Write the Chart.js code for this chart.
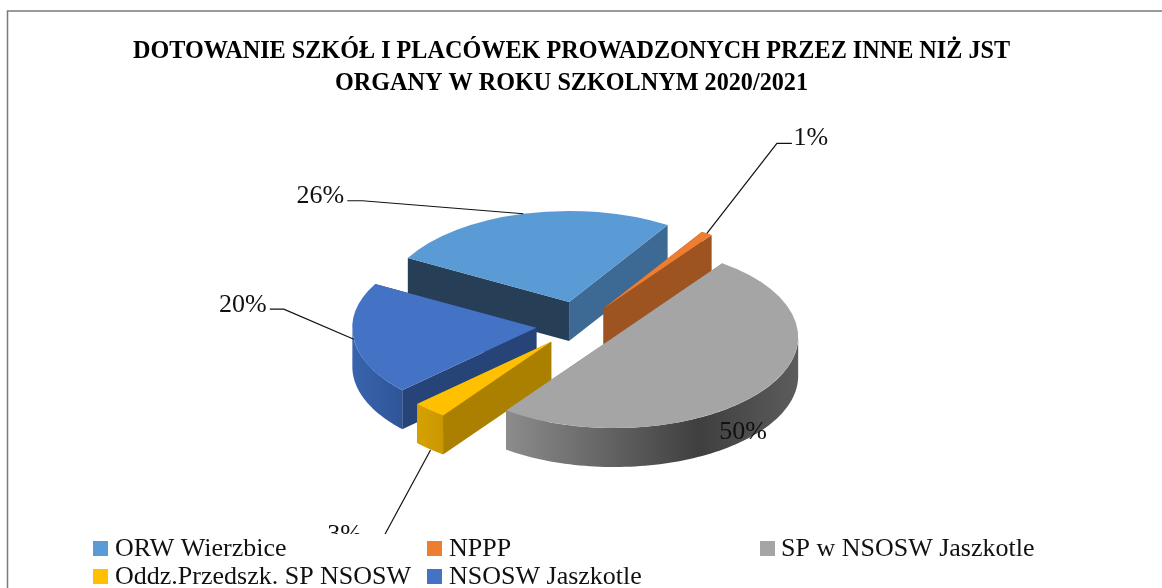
<!DOCTYPE html>
<html lang="pl">
<head>
<meta charset="utf-8">
<title>Dotowanie szkół</title>
<style>html,body{margin:0;padding:0;background:#fff;overflow:hidden}canvas{display:block}</style>
<script src="https://cdn.jsdelivr.net/npm/chart.js@4"></script>
</head>
<body>
<canvas id="c" width="1162" height="588"></canvas>
<script>
const categories = ['ORW Wierzbice', 'NPPP', 'SP w NSOSW Jaszkotle', 'Oddz.Przedszk. SP NSOSW', 'NSOSW Jaszkotle'];
const shares = [26, 1, 50, 3, 20];
const titleLines = ['DOTOWANIE SZKÓŁ I PLACÓWEK PROWADZONYCH PRZEZ INNE NIŻ JST', 'ORGANY W ROKU SZKOLNYM 2020/2021'];
const topColors = ['#5b9bd5', '#ed7d31', '#a5a5a5', '#ffc000', '#4472c4'];

// Look of the 3D pie
const FONT = '"Liberation Serif", serif';
const TILT = 0.495, DEPTH = 39, RADIUS = 184;
const explode = [48, 40, 41, 45, 45];
const startWallColors = ['#263f57', '#9e5420', '#8a8a8a', '#ab8000', '#264478'];
const endWallColors = ['#3d6a94', '#9e5420', '#8a8a8a', '#ab8000', '#264478'];
const outerWallStops = [
  [[0, '#3d6a94'], [1, '#3d6a94']],
  [[0, '#9e5420'], [1, '#9e5420']],
  [[0, '#8c8c8c'], [0.66, '#3f3f3f'], [1, '#5c5c5c']],
  [[0, '#d6a200'], [1, '#c99700']],
  [[0, '#3864ae'], [1, '#2f5597']]
];
// Label placement relative to each slice's outer-edge anchor
const labelLayout = [
  {dx: -203, dy: -18, leader: [[-161, -13], [-176, -13]], drop: 0},
  {dx: 104, dy: -95, leader: [[70, -90], [85, -90]], drop: 0},
  {free: true, dx: -20, dy: 42, leader: [], drop: 0},
  {dx: -85, dy: 125, leader: [[-45, 125]], drop: 1},
  {dx: -111, dy: -34, leader: [[-70, -30], [-84, -30]], drop: 0}
];
const legendCols = [93, 427, 760];
const legendRows = [548, 576];

function ptOn(chart, el, a, r, depth) {
  const cy = (chart.chartArea.top + chart.chartArea.bottom) / 2;
  return {
    x: el.x + r * Math.cos(a),
    y: cy + TILT * (el.y - cy + r * Math.sin(a)) + depth
  };
}
function poly(ctx, pts, fill) {
  ctx.beginPath();
  pts.forEach((p, i) => i ? ctx.lineTo(p.x, p.y) : ctx.moveTo(p.x, p.y));
  ctx.closePath();
  ctx.fillStyle = fill;
  ctx.fill();
}
function normAngle(a) {
  while (a > Math.PI) a -= 2 * Math.PI;
  while (a <= -Math.PI) a += 2 * Math.PI;
  return a;
}

const pie3d = {
  id: 'pie3d',
  afterLayout(chart) {
    chart.titleBlock.left = 0;
    chart.titleBlock.right = 1143;
  },
  beforeDraw(chart) {
    const ctx = chart.ctx;
    ctx.save();
    ctx.strokeStyle = '#7a7a7a';
    ctx.lineWidth = 1.5;
    ctx.beginPath();
    ctx.moveTo(7.5, 588);
    ctx.lineTo(7.5, 11);
    ctx.lineTo(1162, 11);
    ctx.stroke();
    ctx.restore();
  },
  beforeDatasetsDraw(chart) {
    const ctx = chart.ctx;
    const arcs = chart.getDatasetMeta(0).data;
    const area = chart.chartArea;
    const cx = (area.left + area.right) / 2, cy = (area.top + area.bottom) / 2;
    // Explode each slice along its bisector
    arcs.forEach((el, i) => {
      const mid = (el.startAngle + el.endAngle) / 2;
      el.x = cx + Math.cos(mid) * explode[i];
      el.y = cy + Math.sin(mid) * explode[i];
    });
    const order = [0, 1, 4, 2, 3];
    order.forEach(i => {
      const el = arcs[i];
      const apexT = ptOn(chart, el, 0, 0, 0), apexB = ptOn(chart, el, 0, 0, DEPTH);
      [[el.startAngle, startWallColors[i]], [el.endAngle, endWallColors[i]]].forEach(([a, col]) => {
        poly(ctx, [apexT, ptOn(chart, el, a, RADIUS, 0), ptOn(chart, el, a, RADIUS, DEPTH), apexB], col);
      });
      // Outer rim: only the part facing the viewer
      let a0 = normAngle(el.startAngle), a1 = a0 + (el.endAngle - el.startAngle);
      a0 = Math.max(a0, 0);
      a1 = Math.min(a1, Math.PI);
      if (a1 > a0) {
        const top = [], bot = [];
        for (let k = 0; k <= 80; k++) {
          const a = a0 + (a1 - a0) * k / 80;
          top.push(ptOn(chart, el, a, RADIUS, 0));
          bot.unshift(ptOn(chart, el, a, RADIUS, DEPTH));
        }
        const xs = top.map(p => p.x);
        const g = ctx.createLinearGradient(Math.min(...xs), 0, Math.max(...xs), 0);
        outerWallStops[i].forEach(([s, c]) => g.addColorStop(s, c));
        poly(ctx, top.concat(bot), g);
      }
    });
    ctx.save();
    ctx.translate(0, cy);
    ctx.scale(1, TILT);
    ctx.translate(0, -cy);
  },
  afterDatasetsDraw(chart) {
    const ctx = chart.ctx;
    ctx.restore();
    const arcs = chart.getDatasetMeta(0).data;
    ctx.save();
    ctx.fillStyle = '#111';
    ctx.strokeStyle = '#111';
    ctx.lineWidth = 1.2;
    ctx.font = '26px ' + FONT;
    ctx.textAlign = 'center';
    ctx.textBaseline = 'middle';
    arcs.forEach((el, i) => {
      const mid = (el.startAngle + el.endAngle) / 2;
      const L = labelLayout[i];
      const base = ptOn(chart, el, mid, RADIUS, 0);
      const anchor = L.drop ? {x: base.x + 1, y: base.y + DEPTH + 1} : base;
      if (!L.free) {
        ctx.beginPath();
        ctx.moveTo(anchor.x, anchor.y);
        L.leader.forEach(([dx, dy]) => ctx.lineTo(base.x + dx, base.y + dy));
        ctx.stroke();
      }
      ctx.fillText(shares[i] + '%', base.x + L.dx, base.y + L.dy);
    });
    ctx.restore();
  },
  afterDraw(chart) {
    const ctx = chart.ctx;
    ctx.save();
    ctx.fillStyle = '#fff';
    ctx.fillRect(88, 534, 1010, 54);
    ctx.font = '26px ' + FONT;
    ctx.textBaseline = 'middle';
    ctx.textAlign = 'left';
    categories.forEach((name, i) => {
      const col = i < 3 ? i : i - 3;
      const row = i < 3 ? 0 : 1;
      const x = legendCols[col], y = legendRows[row];
      ctx.fillStyle = topColors[i];
      ctx.fillRect(x, y - 7, 15, 15);
      ctx.fillStyle = '#111';
      ctx.fillText(name, x + (col === 2 ? 21 : 22), y + 1);
    });
    ctx.restore();
  }
};

new Chart(document.getElementById('c'), {
  type: 'pie',
  plugins: [pie3d],
  data: {
    labels: categories,
    datasets: [{
      data: shares,
      backgroundColor: topColors,
      borderWidth: 0
    }]
  },
  options: {
    responsive: false,
    animation: false,
    events: [],
    rotation: -61.2,
    radius: RADIUS,
    layout: {padding: {top: 0, bottom: 38, left: 0, right: 0}},
    plugins: {
      legend: {display: false},
      tooltip: {enabled: false},
      title: {
        display: true,
        text: titleLines,
        color: '#000',
        align: 'center',
        font: {family: FONT, size: 24.2, weight: 'bold', lineHeight: 32 / 24.2},
        padding: {top: 36, bottom: 0}
      }
    }
  }
});
</script>
</body>
</html>
